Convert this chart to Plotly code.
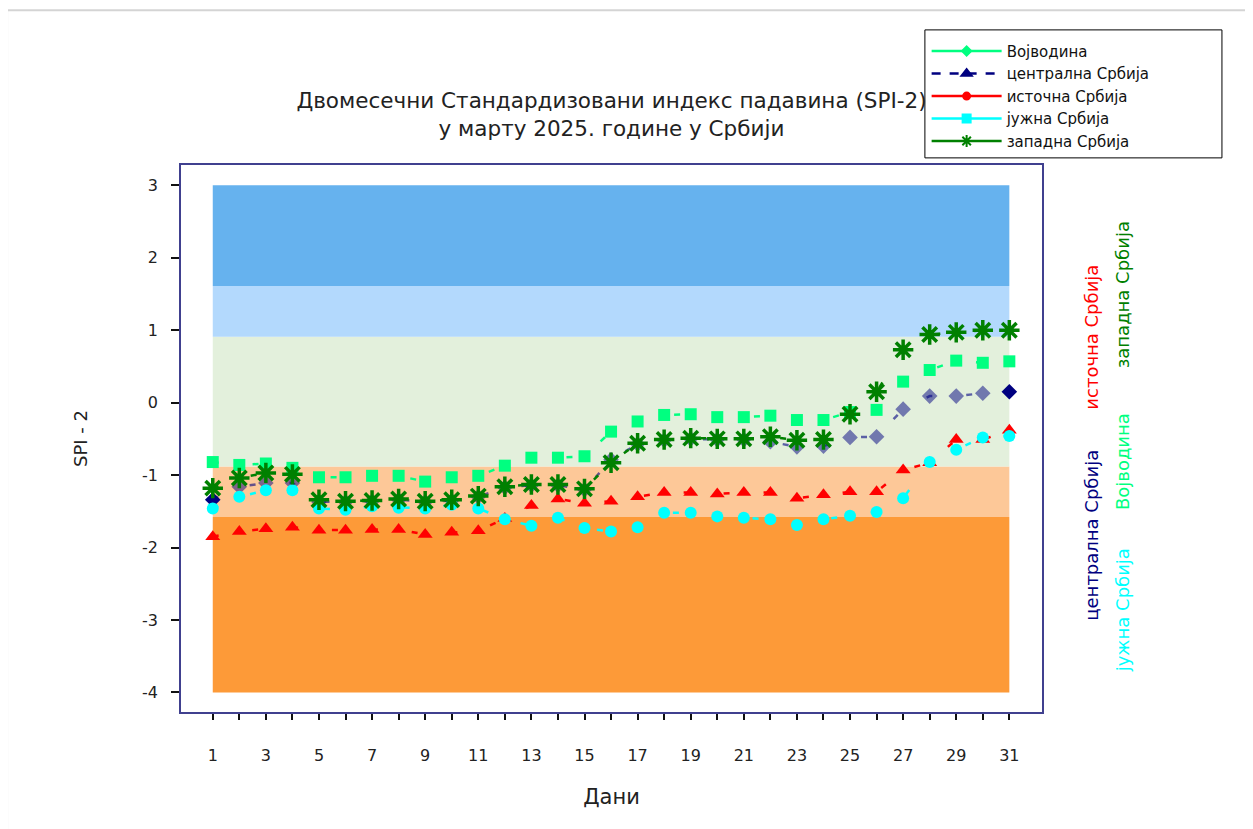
import plotly.graph_objects as go

# ---------------- data ----------------
days = list(range(1, 32))
tick_labels = [str(d) if d % 2 == 1 else "" for d in days]

vojvodina = [-0.82, -0.86, -0.84, -0.90, -1.03, -1.03, -1.01, -1.01, -1.09, -1.03, -1.01,
             -0.87, -0.76, -0.76, -0.74, -0.40, -0.26, -0.17, -0.16, -0.20, -0.20, -0.18,
             -0.24, -0.24, -0.13, -0.10, 0.29, 0.45, 0.58, 0.55, 0.57]
centralna = [-1.34, -1.16, -1.11, -1.11, -1.37, -1.37, -1.36, -1.34, -1.37, -1.35, -1.30,
             -1.17, -1.14, -1.14, -1.20, -0.79, -0.57, -0.52, -0.50, -0.51, -0.51, -0.54,
             -0.61, -0.60, -0.48, -0.47, -0.09, 0.09, 0.09, 0.13, 0.15]
istocna = [-1.85, -1.78, -1.74, -1.72, -1.76, -1.76, -1.75, -1.75, -1.82, -1.79, -1.77,
           -1.60, -1.42, -1.33, -1.39, -1.36, -1.30, -1.24, -1.24, -1.26, -1.24, -1.24,
           -1.32, -1.27, -1.23, -1.23, -0.93, -0.83, -0.51, -0.51, -0.38]
juzna = [-1.46, -1.30, -1.21, -1.21, -1.46, -1.48, -1.43, -1.45, -1.46, -1.41, -1.46,
         -1.61, -1.70, -1.59, -1.73, -1.78, -1.72, -1.52, -1.52, -1.57, -1.59, -1.61,
         -1.69, -1.61, -1.56, -1.51, -1.32, -0.82, -0.65, -0.48, -0.46]
zapadna = [-1.18, -1.04, -0.97, -0.99, -1.34, -1.36, -1.35, -1.33, -1.36, -1.34, -1.29,
           -1.16, -1.13, -1.13, -1.19, -0.83, -0.56, -0.51, -0.49, -0.50, -0.50, -0.47,
           -0.52, -0.51, -0.16, 0.15, 0.73, 0.94, 0.97, 1.00, 1.00]

# SPI category band limits (bottom, top)
band_limits = [(-4.0, -1.58), (-1.58, -0.88), (-0.88, 0.91), (0.91, 1.61), (1.61, 3.0)]
band_colors = ["#fd9a38", "#fdc898", "#e3f0dc", "#b3d9fd", "#66b2ee"]

y_ticks = [-4, -3, -2, -1, 0, 1, 2, 3]
y_tick_text = ["-4", "-3", "-2", "-1", "0", "1", "2", "3"]

FONT = "DejaVu Sans, Liberation Sans, Arial, sans-serif"
DASH = "6px,34px"

fig = go.Figure()

# bands
for (lo, hi), c in zip(band_limits, band_colors):
    fig.add_shape(type="rect", xref="x", yref="y", x0=days[0], x1=days[-1], y0=lo, y1=hi,
                  fillcolor=c, line=dict(width=0), layer="below")

# data traces (draw order: central, east, south, vojvodina, west)
central_marker_colors = ["#000080" if i in (0, len(days) - 1) else "rgba(0,0,128,0.5)"
                         for i in range(len(days))]
fig.add_trace(go.Scatter(x=days, y=centralna, mode="lines+markers", showlegend=False,
                         line=dict(color="rgba(0,0,128,0.6)", width=2.5, dash=DASH),
                         marker=dict(symbol="diamond", size=12, color=central_marker_colors)))
fig.add_trace(go.Scatter(x=days, y=istocna, mode="lines+markers", showlegend=False,
                         line=dict(color="#ff0000", width=2.5, dash=DASH),
                         marker=dict(symbol="triangle-up", size=13, color="#ff0000")))
fig.add_trace(go.Scatter(x=days, y=juzna, mode="lines+markers", showlegend=False,
                         line=dict(color="#00ffff", width=2.5, dash=DASH),
                         marker=dict(symbol="circle", size=12, color="#00ffff")))
fig.add_trace(go.Scatter(x=days, y=vojvodina, mode="lines+markers", showlegend=False,
                         line=dict(color="#00ff80", width=2.5, dash=DASH),
                         marker=dict(symbol="square", size=12, color="#00ff80")))
fig.add_trace(go.Scatter(x=days, y=zapadna, mode="lines+markers", showlegend=False,
                         line=dict(color="#008000", width=2.5, dash=DASH),
                         marker=dict(symbol="asterisk-open", size=17, color="#008000",
                                     line=dict(color="#008000", width=3.5))))

# legend-only traces (legend symbols differ from plotted markers)
legend_specs = [
    ("Војводина", "#00ff80", "solid", "diamond", 7),
    ("централна Србија", "#000080", "dash", "triangle-up", 9),
    ("источна Србија", "#ff0000", "solid", "circle", 7),
    ("јужна Србија", "#00ffff", "solid", "square", 8),
    ("западна Србија", "#008000", "solid", "asterisk-open", 10),
]
for name, col, dash, sym, sz in legend_specs:
    fig.add_trace(go.Scatter(x=[None], y=[None], mode="lines+markers", name=name,
                             line=dict(color=col, width=2.5, dash=dash),
                             marker=dict(symbol=sym, size=sz, color=col,
                                         line=dict(color=col, width=2))))

# vertical region labels on the right
side_labels = [
    ("источна Србија", "#ff0000", 1.058, 0.686),
    ("западна Србија", "#008000", 1.093, 0.762),
    ("централна Србија", "#000080", 1.058, 0.324),
    ("Војводина", "#00ff80", 1.093, 0.457),
    ("јужна Србија", "#00ffff", 1.093, 0.186),
]
for txt, col, xp, yp in side_labels:
    fig.add_annotation(text=txt, xref="paper", yref="paper", x=xp, y=yp, showarrow=False,
                       textangle=-90, font=dict(family=FONT, size=18, color=col),
                       xanchor="center", yanchor="middle")

# outer light-grey frame (top and left edges)
fig.add_shape(type="line", xref="paper", yref="paper", x0=-0.202, x1=1.3, y0=1.283, y1=1.283,
              line=dict(color="#d4d4d4", width=2))
fig.add_shape(type="line", xref="paper", yref="paper", x0=-0.202, x1=-0.202, y0=-0.3, y1=1.283,
              line=dict(color="#d4d4d4", width=2))

# legend frame box
fig.add_shape(type="rect", xref="paper", yref="paper", x0=0.864, x1=1.209, y0=1.013, y1=1.247,
              line=dict(color="black", width=1), fillcolor="white", layer="above")

axis_col = "#40408f"
fig.update_layout(
    width=1245, height=821,
    margin=dict(l=173, r=211, t=157, b=117, autoexpand=False),
    paper_bgcolor="white", plot_bgcolor="white",
    font=dict(family=FONT, color="#222222"),
    title=dict(text="Двомесечни Стандардизовани индекс падавина (SPI-2)<br>у марту 2025. године у Србији",
               x=0.5, xref="paper", xanchor="center", y=0.878, yanchor="middle",
               font=dict(family=FONT, size=21.5, color="#222222")),
    legend=dict(x=0.866, y=1.238, xanchor="left", yanchor="top",
                bgcolor="rgba(0,0,0,0)", borderwidth=0,
                font=dict(family=FONT, size=15, color="#111111"),
                tracegroupgap=0, itemwidth=70),
    xaxis=dict(range=[-0.196, 32.23], tickmode="array", tickvals=days, ticktext=tick_labels,
               ticks="outside", ticklen=6, tickcolor="#111111", tickwidth=1.5,
               showline=True, linecolor=axis_col, linewidth=1.5, mirror=True,
               showgrid=False, zeroline=False, ticklabelstandoff=22,
               tickfont=dict(family=FONT, size=16, color="#222222"),
               title=dict(text="Дани", standoff=25, font=dict(family=FONT, size=21, color="#222222"))),
    yaxis=dict(range=[-4.27, 3.28], tickmode="array", tickvals=y_ticks, ticktext=y_tick_text,
               ticks="outside", ticklen=8, tickcolor="#111111", tickwidth=1.5,
               showline=True, linecolor=axis_col, linewidth=1.5, mirror=True,
               showgrid=False, zeroline=False, ticklabelstandoff=10,
               tickfont=dict(family=FONT, size=16, color="#222222"),
               title=dict(text="SPI - 2", standoff=50, font=dict(family=FONT, size=18, color="#222222"))),
)

fig.write_html("out.html")
